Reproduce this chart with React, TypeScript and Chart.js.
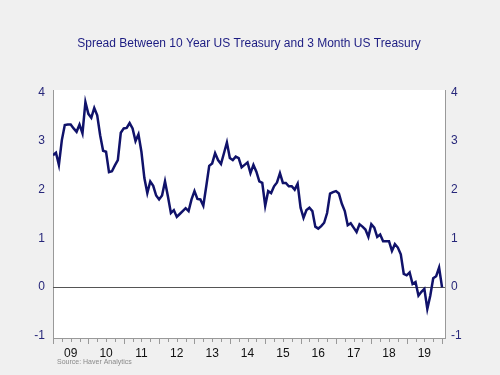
import React, { useEffect, useRef } from "react";
import { Chart, registerables } from "chart.js";

Chart.register(...registerables);

// Monthly spread (10Y minus 3M), Jan 2009 .. Jan 2020
const spread: number[] = [
  2.71, 2.76, 2.51, 3.02, 3.33, 3.34, 3.34, 3.26, 3.19, 3.34, 3.16, 3.80,
  3.56, 3.48, 3.68, 3.53, 3.12, 2.80, 2.78, 2.36, 2.38, 2.50, 2.61, 3.17,
  3.26, 3.27, 3.37, 3.26, 3.00, 3.14, 2.78, 2.24, 1.93, 2.17, 2.08, 1.88,
  1.80, 1.88, 2.17, 1.86, 1.52, 1.58, 1.44, 1.50, 1.56, 1.62, 1.56, 1.80,
  1.97, 1.81, 1.80, 1.67, 2.07, 2.49, 2.54, 2.75, 2.61, 2.53, 2.75, 2.97,
  2.65, 2.61, 2.68, 2.65, 2.46, 2.51, 2.56, 2.34, 2.51, 2.37, 2.17, 2.14,
  1.67, 1.97, 1.93, 2.07, 2.15, 2.34, 2.14, 2.14, 2.07, 2.07, 2.00, 2.12,
  1.63, 1.42, 1.58, 1.63, 1.56, 1.24, 1.20, 1.25, 1.32, 1.52, 1.92, 1.95,
  1.97, 1.92, 1.71, 1.56, 1.27, 1.31, 1.22, 1.13, 1.29, 1.24, 1.18, 1.03,
  1.29, 1.22, 1.03, 1.08, 0.94, 0.94, 0.94, 0.74, 0.88, 0.81, 0.67, 0.27,
  0.24, 0.30, 0.06, 0.10, -0.18, -0.10, -0.04, -0.45, -0.18, 0.18, 0.22, 0.40,
  -0.01,
];

const yearLabels: string[] = ["09", "10", "11", "12", "13", "14", "15", "16", "17", "18", "19"];
const yTickValues: number[] = [-1, 0, 1, 2, 3, 4];
const yMin = -1.05;
const yMax = 4.05;
const titleText = "Spread Between 10 Year US Treasury and 3 Month US Treasury";
const sourceText = "Source: Haver Analytics";

const FONT = "'Liberation Sans', Arial, Helvetica, sans-serif";
const NAVY = "#10126a";

export default function App() {
  const ref = useRef<HTMLCanvasElement>(null);

  useEffect(() => {
    const canvas = ref.current;
    if (!canvas) return;
    const points = spread.map((v, i) => ({ x: i, y: v }));
    const xMax = spread.length;

    const decor = {
      id: "decor",
      beforeDraw(c: any) {
        const ctx = c.ctx;
        const a = c.chartArea;
        ctx.save();
        ctx.fillStyle = "#f0f0f0";
        ctx.fillRect(0, 0, c.width, c.height);
        ctx.fillStyle = "#ffffff";
        ctx.fillRect(a.left, a.top, a.right - a.left, a.bottom - a.top);
        ctx.restore();
      },
      beforeDatasetsDraw(c: any) {
        const ctx = c.ctx;
        const a = c.chartArea;
        const y0 = Math.round(c.scales.y.getPixelForValue(0)) + 0.5;
        ctx.save();
        ctx.strokeStyle = "#555555";
        ctx.lineWidth = 1;
        ctx.beginPath();
        ctx.moveTo(a.left, y0);
        ctx.lineTo(a.right, y0);
        ctx.stroke();
        ctx.restore();
      },
      afterDraw(c: any) {
        const ctx = c.ctx;
        const a = c.chartArea;
        const xs = c.scales.x;
        ctx.save();
        ctx.strokeStyle = "#999999";
        ctx.lineWidth = 1;
        for (let m = 0; m <= xMax; m += 3) {
          const px = Math.round(xs.getPixelForValue(m)) + 0.5;
          const len = m % 12 === 0 ? 6 : 4;
          ctx.beginPath();
          ctx.moveTo(px, a.bottom);
          ctx.lineTo(px, a.bottom + len);
          ctx.stroke();
        }
        ctx.fillStyle = "#1c1c82";
        ctx.font = `12px ${FONT}`;
        ctx.textAlign = "center";
        ctx.textBaseline = "middle";
        ctx.fillText(titleText, 249, 44);
        ctx.fillStyle = "#8a8a8a";
        ctx.font = `7px ${FONT}`;
        ctx.textAlign = "left";
        ctx.fillText(sourceText, 57, 362);
        ctx.restore();
      },
    };

    const yScale = (position: string, width: number, padding: number) => ({
      position,
      min: yMin,
      max: yMax,
      grid: { display: false, drawTicks: false },
      border: { display: true, color: "#999999", width: 1 },
      afterBuildTicks(scale: any) {
        scale.ticks = yTickValues.map((v) => ({ value: v }));
      },
      afterFit(scale: any) {
        scale.width = width;
      },
      ticks: {
        padding,
        color: "#27277a",
        font: { family: FONT, size: 12 },
        callback: (v: any) => String(Math.round(Number(v))),
      },
    });

    const chart = new Chart(canvas, {
      type: "line",
      data: {
        datasets: [
          {
            data: points,
            borderColor: NAVY,
            borderWidth: 2.5,
            pointRadius: 0,
            tension: 0,
            fill: false,
          },
        ],
      },
      options: {
        responsive: false,
        animation: false,
        devicePixelRatio: 1,
        layout: { padding: { top: 90, left: 0, right: 0, bottom: 0 } },
        plugins: {
          legend: { display: false },
          tooltip: { enabled: false },
          title: { display: false },
        },
        scales: {
          x: {
            type: "linear",
            min: 0,
            max: xMax,
            grid: { display: false, drawTicks: false },
            border: { display: true, color: "#999999", width: 1 },
            afterBuildTicks(scale: any) {
              scale.ticks = yearLabels.map((_, i) => ({ value: i * 12 + 6 }));
            },
            afterFit(scale: any) {
              scale.height = 37;
            },
            ticks: {
              autoSkip: false,
              maxRotation: 0,
              padding: 8,
              color: "#111111",
              font: { family: FONT, size: 12 },
              callback: (v: any) => {
                const idx = Math.round((Number(v) - 6) / 12);
                return yearLabels[idx] ?? "";
              },
            },
          },
          y: yScale("left", 53, 8),
          y2: yScale("right", 55, 6),
        },
      },
      plugins: [decor],
    } as any);

    return () => chart.destroy();
  }, []);

  return (
    <div
      style={{
        position: "fixed",
        left: 0,
        top: 0,
        width: 500,
        height: 375,
        background: "#f0f0f0",
      }}
    >
      <canvas
        ref={ref}
        width={500}
        height={375}
        style={{ display: "block", width: 500, height: 375 }}
      />
    </div>
  );
}
